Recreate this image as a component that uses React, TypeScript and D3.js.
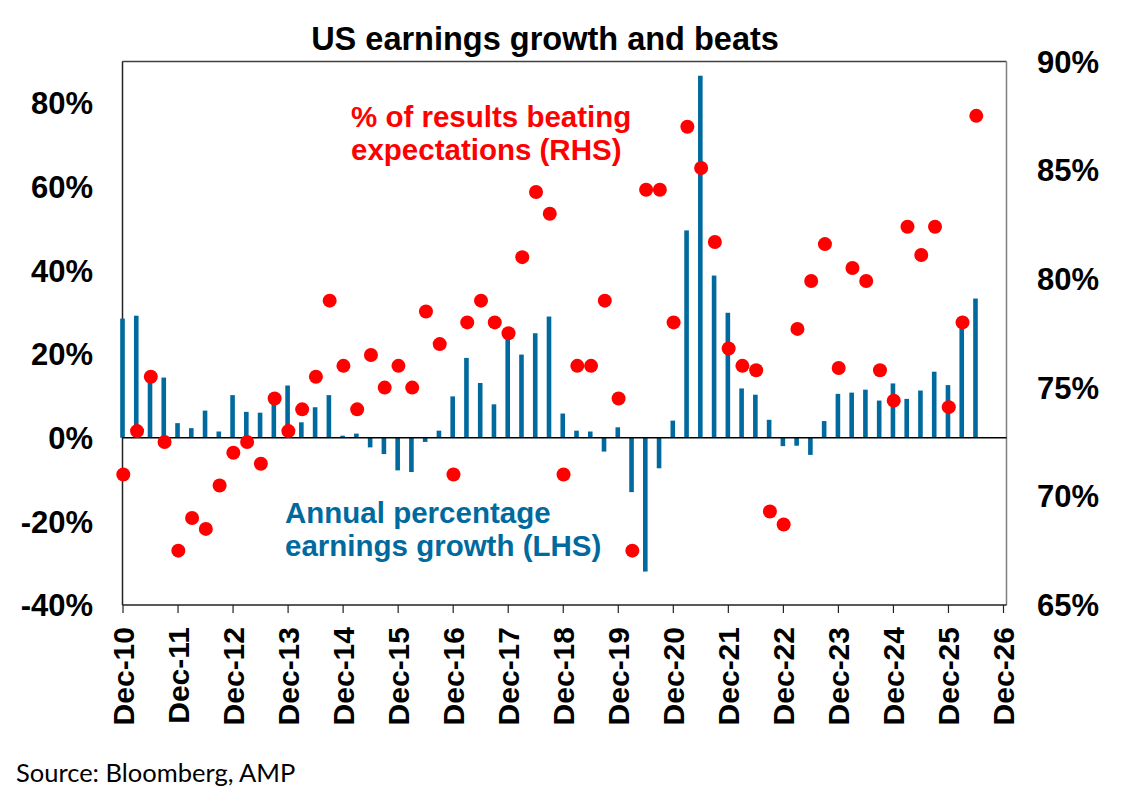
import * as d3 from "d3";
import React, { useEffect, useRef } from "react";

// quarter ends, Dec-10 .. Jun-26
const quarters = [
  "Dec-10", "Mar-11", "Jun-11", "Sep-11", "Dec-11", "Mar-12", "Jun-12", "Sep-12",
  "Dec-12", "Mar-13", "Jun-13", "Sep-13", "Dec-13", "Mar-14", "Jun-14", "Sep-14",
  "Dec-14", "Mar-15", "Jun-15", "Sep-15", "Dec-15", "Mar-16", "Jun-16", "Sep-16",
  "Dec-16", "Mar-17", "Jun-17", "Sep-17", "Dec-17", "Mar-18", "Jun-18", "Sep-18",
  "Dec-18", "Mar-19", "Jun-19", "Sep-19", "Dec-19", "Mar-20", "Jun-20", "Sep-20",
  "Dec-20", "Mar-21", "Jun-21", "Sep-21", "Dec-21", "Mar-22", "Jun-22", "Sep-22",
  "Dec-22", "Mar-23", "Jun-23", "Sep-23", "Dec-23", "Mar-24", "Jun-24", "Sep-24",
  "Dec-24", "Mar-25", "Jun-25", "Sep-25", "Dec-25", "Mar-26", "Jun-26",
];

// annual % earnings growth (LHS)
const earningsGrowth = [
  28.5, 29.2, 14.2, 14.4, 3.5, 2.3, 6.5, 1.5,
  10.2, 6.2, 6.0, 9.5, 12.5, 3.7, 7.3, 10.2,
  0.5, 1.0, -2.3, -3.9, -7.8, -8.2, -1.0, 1.7,
  9.9, 19.1, 13.1, 8.0, 24.0, 19.9, 25.0, 29.0,
  5.8, 1.7, 1.5, -3.3, 2.5, -13.0, -32.0, -7.3,
  4.1, 49.6, 86.6, 38.8, 29.9, 11.8, 10.3, 4.3,
  -2.0, -1.9, -4.1, 4.0, 10.5, 10.8, 11.5, 8.9,
  13.0, 9.3, 11.3, 15.8, 12.6, 27.5, 33.3,
];

// % of results beating expectations (RHS)
const beats = [
  71.0, 73.0, 75.5, 72.5, 67.5, 69.0, 68.5, 70.5,
  72.0, 72.5, 71.5, 74.5, 73.0, 74.0, 75.5, 79.0,
  76.0, 74.0, 76.5, 75.0, 76.0, 75.0, 78.5, 77.0,
  71.0, 78.0, 79.0, 78.0, 77.5, 81.0, 84.0, 83.0,
  71.0, 76.0, 76.0, 79.0, 74.5, 67.5, 84.1, 84.1,
  78.0, 87.0, 85.1, 81.7, 76.8, 76.0, 75.8, 69.3,
  68.7, 77.7, 79.9, 81.6, 75.9, 80.5, 79.9, 75.8,
  74.4, 82.4, 81.1, 82.4, 74.1, 78.0, 87.5,
];

const xTickLabels = [
  "Dec-10", "Dec-11", "Dec-12", "Dec-13", "Dec-14", "Dec-15", "Dec-16", "Dec-17", "Dec-18",
  "Dec-19", "Dec-20", "Dec-21", "Dec-22", "Dec-23", "Dec-24", "Dec-25", "Dec-26",
];
const leftTicks = [-40, -20, 0, 20, 40, 60, 80];
const rightTicks = [65, 70, 75, 80, 85, 90];

const FONT = "'Liberation Sans', Arial, sans-serif";
const BLUE = "#006a9e";
const RED = "#ff0000";

const App: React.FC = () => {
  const ref = useRef<SVGSVGElement>(null);

  useEffect(() => {
    if (!ref.current) return;
    const svg = d3.select(ref.current);
    svg.selectAll("*").remove();

    const width = 1129,
      height = 801;
    const plot = { left: 122.5, right: 1006.5, top: 61.5, bottom: 605 };

    // one unit = one quarter; Dec-26 sits 64 quarters after Dec-10
    const x = d3.scaleLinear().domain([0, 64]).range([plot.left, 1003]);
    const yL = d3.scaleLinear().domain([-40, 90]).range([plot.bottom, plot.top]);
    const yR = d3.scaleLinear().domain([65, 90]).range([plot.bottom, plot.top]);

    svg.attr("width", width).attr("height", height);

    // title
    svg
      .append("text")
      .attr("x", 545)
      .attr("y", 50)
      .attr("text-anchor", "middle")
      .style("font-family", FONT)
      .style("font-weight", "bold")
      .style("font-size", "32.5px")
      .text("US earnings growth and beats");

    // plot frame
    svg
      .append("line")
      .attr("x1", plot.left).attr("x2", plot.right)
      .attr("y1", plot.top).attr("y2", plot.top)
      .attr("stroke", "#404040").attr("stroke-width", 1.5);
    svg
      .append("line")
      .attr("x1", plot.right).attr("x2", plot.right)
      .attr("y1", plot.top).attr("y2", plot.bottom)
      .attr("stroke", "#7f7f7f").attr("stroke-width", 1.5);
    svg
      .append("line")
      .attr("x1", plot.left).attr("x2", plot.left)
      .attr("y1", plot.top).attr("y2", plot.bottom)
      .attr("stroke", "#222").attr("stroke-width", 1.5);

    // bars
    svg
      .append("g")
      .selectAll("rect")
      .data(earningsGrowth)
      .enter()
      .append("rect")
      .attr("x", (_, i) => x(i) - 2.3)
      .attr("width", 4.6)
      .attr("y", (d) => yL(Math.max(0, d)))
      .attr("height", (d) => Math.abs(yL(d) - yL(0)))
      .attr("fill", BLUE);

    // zero line
    svg
      .append("line")
      .attr("x1", plot.left).attr("x2", plot.right)
      .attr("y1", yL(0)).attr("y2", yL(0))
      .attr("stroke", "#000").attr("stroke-width", 1.5);

    // bottom axis
    const xAxis = svg
      .append("g")
      .attr("transform", `translate(0,${plot.bottom})`)
      .call(
        d3
          .axisBottom(x)
          .tickValues(xTickLabels.map((_, i) => i * 4))
          .tickFormat((_, i) => xTickLabels[i])
          .tickSize(8)
          .tickSizeOuter(0)
      );
    xAxis.select(".domain").attr("stroke", "#222").attr("stroke-width", 1.5)
      .attr("d", `M${plot.left},0H${plot.right}`);
    xAxis.selectAll(".tick line").attr("stroke", "#222").attr("stroke-width", 1.2);
    xAxis
      .selectAll(".tick text")
      .attr("transform", "rotate(-90)")
      .attr("x", -22)
      .attr("y", 0)
      .attr("dy", "0.36em")
      .attr("text-anchor", "end")
      .attr("fill", "#000")
      .style("font-family", FONT)
      .style("font-weight", "bold")
      .style("font-size", "30px");

    // left labels
    svg
      .append("g")
      .selectAll("text")
      .data(leftTicks)
      .enter()
      .append("text")
      .attr("x", 93)
      .attr("y", (d) => yL(d))
      .attr("dy", "0.36em")
      .attr("text-anchor", "end")
      .style("font-family", FONT)
      .style("font-weight", "bold")
      .style("font-size", "31px")
      .text((d) => `${d}%`);

    // right labels
    svg
      .append("g")
      .selectAll("text")
      .data(rightTicks)
      .enter()
      .append("text")
      .attr("x", 1037)
      .attr("y", (d) => yR(d))
      .attr("dy", "0.36em")
      .attr("text-anchor", "start")
      .style("font-family", FONT)
      .style("font-weight", "bold")
      .style("font-size", "31px")
      .text((d) => `${d}%`);

    // dots
    svg
      .append("g")
      .selectAll("circle")
      .data(beats)
      .enter()
      .append("circle")
      .attr("cx", (_, i) => x(i) + 0.8)
      .attr("cy", (d) => yR(d))
      .attr("r", 7)
      .attr("fill", RED);

    // annotations
    const note = (lines: string[], xPos: number, yPos: number, color: string) => {
      const t = svg
        .append("text")
        .attr("x", xPos)
        .attr("y", yPos)
        .attr("fill", color)
        .style("font-family", FONT)
        .style("font-weight", "bold")
        .style("font-size", "29.5px");
      lines.forEach((l, i) =>
        t.append("tspan").attr("x", xPos).attr("dy", i === 0 ? 0 : 33).text(l)
      );
    };
    note(["% of results beating", "expectations (RHS)"], 351, 127, RED);
    note(["Annual percentage", "earnings growth (LHS)"], 285, 523, BLUE);

    // source
    svg
      .append("text")
      .attr("x", 16)
      .attr("y", 782)
      .style("font-family", "Lato, 'Open Sans', sans-serif")
      .style("font-size", "25.5px")
      .text("Source: Bloomberg, AMP");
  }, []);

  return (
    <svg
      ref={ref}
      style={{ position: "absolute", left: 0, top: 0, background: "#fff" }}
    />
  );
};

export default App;
